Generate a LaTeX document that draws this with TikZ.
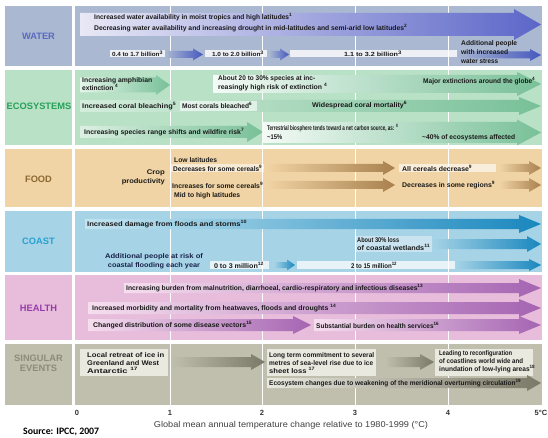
\documentclass[tikz,border=0pt]{standalone}
\usepackage{fontspec}
\setmainfont{Liberation Sans}
\newfontfamily\srcfont{Carlito}
\definecolor{wbg}{RGB}{170,184,210}
\definecolor{ebg}{RGB}{184,225,197}
\definecolor{fbg}{RGB}{241,212,165}
\definecolor{cbg}{RGB}{166,211,230}
\definecolor{hbg}{RGB}{232,189,219}
\definecolor{sbg}{RGB}{192,190,172}
\definecolor{wdk}{RGB}{92,102,200}
\definecolor{wsm}{RGB}{70,88,190}
\definecolor{wlt}{RGB}{232,232,246}
\definecolor{edk}{RGB}{120,192,152}
\definecolor{elt}{RGB}{228,245,233}
\definecolor{fdk}{RGB}{168,128,78}
\definecolor{cdk}{RGB}{25,135,190}
\definecolor{clt}{RGB}{195,228,240}
\definecolor{hdk}{RGB}{165,100,178}
\definecolor{hlt}{RGB}{245,222,238}
\definecolor{sdk}{RGB}{122,120,102}
\definecolor{slt}{RGB}{234,233,224}
\definecolor{lwater}{RGB}{90,105,190}
\definecolor{leco}{RGB}{40,160,90}
\definecolor{lfood}{RGB}{140,105,50}
\definecolor{lcoast}{RGB}{40,160,210}
\definecolor{lhealth}{RGB}{150,60,170}
\definecolor{lsing}{RGB}{140,140,125}
\definecolor{txtc}{RGB}{25,25,25}
\definecolor{navy}{RGB}{25,35,75}
\newcommand\garrow[8]{%
  \shade[left color=#7,right color=#8] (#1,#3-#4) -- (#2-#6,#3-#4) -- (#2-#6,#3-#5) -- (#2,#3) -- (#2-#6,#3+#5) -- (#2-#6,#3+#4) -- (#1,#3+#4) -- cycle;}
\newcommand\fnum[1]{\textsuperscript{#1}}
\newcommand\fitw[2]{\resizebox{#1pt}{\height}{#2}}
\begin{document}
\begin{tikzpicture}[x=1pt,y=-1pt,
  txt/.style={font=\fontsize{6.8}{8}\selectfont\bfseries, text=txtc, inner sep=0pt, anchor=west, align=left},
  txtn/.style={txt, font=\fontsize{6.8}{9}\selectfont\bfseries},
  lbl/.style={font=\fontsize{9.3}{10}\selectfont\bfseries, align=center},
  axn/.style={font=\fontsize{7.5}{9}\selectfont\bfseries, text=black!80}]
\useasboundingbox (0,0) rectangle (548,438);
\fill[white] (0,0) rectangle (548,438);
% ---- row backgrounds
\fill[wbg] (5,6) rectangle (72,66);   \fill[wbg] (75,6) rectangle (542,66);
\fill[ebg] (5,70) rectangle (72,145); \fill[ebg] (75,70) rectangle (542,145);
\fill[fbg] (5,149) rectangle (72,207);\fill[fbg] (75,149) rectangle (542,207);
\fill[cbg] (5,211) rectangle (72,272);\fill[cbg] (75,211) rectangle (542,272);
\fill[hbg] (5,275) rectangle (72,340);\fill[hbg] (75,275) rectangle (542,340);
\fill[sbg] (5,344) rectangle (72,405);\fill[sbg] (75,344) rectangle (542,405);
% ---- grid lines
\foreach \gx in {170,262,355,448} \draw[white, line width=0.9pt] (\gx,6) -- (\gx,405);
% ---- row labels
\node[lbl, text=lwater] (Lw) at (38.5,36) {WATER};
\node[lbl, text=leco] (Le) at (39,106) {ECOSYSTEMS};
\node[lbl, text=lfood] (Lf) at (38.5,179) {FOOD};
\node[lbl, text=lcoast] (Lc) at (38.5,241) {COAST};
\node[lbl, text=lhealth] (Lh) at (38.5,308) {HEALTH};
\node[lbl, text=lsing] (Ls) at (38.5,363) {SINGULAR\\EVENTS};

% ================= WATER
\garrow{80}{541}{24.5}{11.5}{15.5}{27}{wlt}{wdk}
\node[txt] (w1) at (94,17.5) {\fitw{198}{Increased water availability in moist tropics and high latitudes\fnum{1}}};
\node[txt] (w2) at (94,28.5) {\fitw{313}{Decreasing water availability and increasing drought in mid-latitudes and semi-arid low latitudes\fnum{2}}};
\garrow{165}{203}{54.5}{3.5}{6}{10}{wbg}{wsm}
\garrow{269}{289}{54.5}{3.5}{6}{9}{wbg}{wsm}
\garrow{455}{541}{55}{3.5}{6}{11}{wbg}{wsm}
\fill[white, opacity=0.8] (110,50.5) rectangle (165,57.5);
\fill[white, opacity=0.8] (205,50.5) rectangle (267,57.5);
\fill[white, opacity=0.8] (290,50.5) rectangle (457,57.5);
\node[txt, font=\fontsize{6}{7}\selectfont\bfseries, anchor=center] (w3) at (137.5,54) {\fitw{51}{0.4 to 1.7 billion\fnum{3}}};
\node[txt, font=\fontsize{6}{7}\selectfont\bfseries, anchor=center] (w4) at (238,54) {\fitw{52}{1.0 to 2.0 billion\fnum{3}}};
\node[txt, font=\fontsize{6}{7}\selectfont\bfseries, anchor=center] (w5) at (373,54) {\fitw{58}{1.1 to 3.2 billion\fnum{3}}};
\node[txtn] (w6) at (461,52) {\fitw{56}{Additional people}\\\fitw{47}{with increased}\\\fitw{37}{water stress}};

% ================= ECOSYSTEMS
\garrow{80}{170}{85}{7.5}{10}{14}{elt}{edk}
\garrow{213}{541}{84}{9}{12}{24}{white!85!ebg}{edk}
\garrow{80}{541}{106}{6}{9}{22}{white!40!ebg}{edk}
\fill[white, opacity=0.6] (180,101) rectangle (257,111);
\garrow{80}{263}{132}{6}{10}{16}{white!50!ebg}{edk}
\garrow{262}{541}{132.5}{10.5}{13}{24}{white!85!ebg}{edk}
\node[txt] (e1) at (82,84) {\fitw{70}{Increasing amphibian}\\\fitw{36}{extinction \fnum{4}}};
\node[txtn] (e2) at (218,83.5) {\fitw{97}{About 20 to 30\% species at inc-}\\\fitw{109}{reasingly high risk of extinction \fnum{4}}};
\node[txt] (e3) at (423,81) {\fitw{112}{Major extinctions around the globe\fnum{4}}};
\node[txt] (e4) at (82,106) {\fitw{94}{Increased coral bleaching\fnum{5}}};
\node[txt] (e5) at (182,105.5) {\fitw{70}{Most corals bleached\fnum{6}}};
\node[txt] (e6) at (312,105.5) {\fitw{95}{Widespread coral mortality\fnum{6}}};
\node[txt] (e7) at (84,132) {\fitw{160}{Increasing species range shifts and wildfire risk\fnum{7}}};
\node[txt] (e8) at (267,128) {\fitw{131}{Terrestrial biosphere tends toward a net carbon source, as: \fnum{8}}};
\node[txt] (e9) at (267,137.5) {\fitw{15}{\textasciitilde15\%}};
\node[txt] (e10) at (422,137.5) {\fitw{93}{\textasciitilde40\% of ecosystems affected}};

% ================= FOOD
\node[txtn, anchor=east, align=right] (f0) at (165,177.5) {\fitw{18}{Crop}\\\fitw{43}{productivity}};
\node[txt] (f1) at (174,160) {\fitw{43}{Low latitudes}};
\fill[white, opacity=0.55] (171,164) rectangle (264,172);
\node[txt] (f2) at (173,168) {\fitw{89}{Decreases for some cereals\fnum{9}}};
\garrow{265}{395}{168}{4}{7}{12}{fbg}{fdk}
\fill[white, opacity=0.6] (399,164) rectangle (496,172);
\node[txt] (f3) at (402,168) {\fitw{70}{All cereals decrease\fnum{9}}};
\garrow{499}{541}{168}{4}{7}{12}{fbg}{fdk}
\node[txt] (f4) at (172,185) {\fitw{91}{Increases for some cereals\fnum{9}}};
\garrow{265}{395}{185}{4}{7}{12}{fbg}{fdk}
\node[txt] (f5) at (402,185) {\fitw{93}{Decreases in some regions\fnum{9}}};
\garrow{499}{541}{185}{4}{7}{12}{fbg}{fdk}
\node[txt] (f6) at (174,196) {\fitw{66}{Mid to high latitudes}};

% ================= COAST
\garrow{85}{541}{224}{5}{9}{22}{clt}{cdk}
\node[txt] (c1) at (87,224) {\fitw{160}{Increased damage from floods and storms\fnum{10}}};
\fill[white, opacity=0.4] (355,236) rectangle (432,252);
\garrow{432}{541}{244}{5}{8}{14}{cbg}{cdk}
\node[txt] (c2) at (357,244) {\fitw{42}{About 30\% loss}\\\fitw{73}{of coastal wetlands\fnum{11}}};
\node[txtn, anchor=center, align=center, text=navy] (c3) at (154,261.5) {\fitw{98}{Additional people at risk of}\\\fitw{92}{coastal flooding each year}};
\fill[white, opacity=0.75] (210,261) rectangle (269,269);
\node[txt, anchor=center] (c4) at (239,265) {\fitw{50}{0 to 3 million\fnum{12}}};
\garrow{274}{295}{265}{3}{5.5}{8}{cbg}{cdk}
\fill[white, opacity=0.75] (297,261) rectangle (455,269);
\node[txt, anchor=center] (c5) at (374,265) {\fitw{46}{2 to 15 million\fnum{12}}};
\garrow{455}{541}{265}{4}{6}{12}{cbg}{cdk}

% ================= HEALTH
\garrow{124}{541}{288}{5}{9}{22}{hlt}{hdk}
\garrow{88}{541}{308}{6}{9}{22}{hlt}{hdk}
\garrow{88}{311}{325}{6}{9}{18}{hlt}{hdk}
\garrow{314}{541}{325}{6}{9}{22}{hlt}{hdk}
\node[txt] (h1) at (126,288) {\fitw{297}{Increasing burden from malnutrition, diarrhoeal, cardio-respiratory and infectious diseases\fnum{13}}};
\node[txt] (h2) at (92,308) {\fitw{244}{Increased morbidity and mortality from heatwaves, floods and droughts \fnum{14}}};
\node[txt] (h3) at (93,325) {\fitw{159}{Changed distribution of some disease vectors\fnum{15}}};
\node[txt] (h4) at (316,325) {\fitw{123}{Substantial burden on health services\fnum{16}}};

% ================= SINGULAR EVENTS
\fill[slt] (80,349) rectangle (168,376);
\fill[slt] (267,349) rectangle (376,376);
\fill[slt] (435,349) rectangle (533,376);
\garrow{171}{265}{362}{5}{8}{14}{sbg}{sdk}
\garrow{385}{434}{362}{5}{8}{14}{sbg}{sdk}
\garrow{267}{541}{383}{5}{8}{14}{slt}{sdk}
\node[txt] (s1) at (87,363) {\fitw{77}{Local retreat of ice in}\\\fitw{72}{Greenland and West}\\\fitw{51}{Antarctic \fnum{17}}};
\node[txt] (s2) at (269,363) {\fitw{105}{Long term commitment to several}\\\fitw{104}{metres of sea-level rise due to ice}\\\fitw{46}{sheet loss \fnum{17}}};
\node[txt] (s3) at (439,362) {\fitw{73}{Leading to reconfiguration}\\\fitw{84}{of coastlines world wide and}\\\fitw{96}{inundation of low-lying areas\fnum{18}}};
\node[txt] (s4) at (269,383) {\fitw{252}{Ecosystem changes due to weakening of the meridional overturning circulation\fnum{19}}};

% ================= AXIS
\node[axn] (a0) at (77,413) {0};
\node[axn] (a1) at (170,413) {1};
\node[axn] (a2) at (262,413) {2};
\node[axn] (a3) at (355,413) {3};
\node[axn] (a4) at (448,413) {4};
\node[axn] (a5) at (541,413) {5\textdegree C};
\node[font=\fontsize{8.5}{9}\selectfont, text=black!75, inner sep=0] (ax) at (291,425) {\fitw{274}{Global mean annual temperature change relative to 1980-1999 (\textdegree C)}};
\node[font=\srcfont\fontsize{9.8}{10}\selectfont\bfseries, anchor=west, inner sep=0] (src) at (23,432) {Source: IPCC, 2007};
\end{tikzpicture}
\end{document}
